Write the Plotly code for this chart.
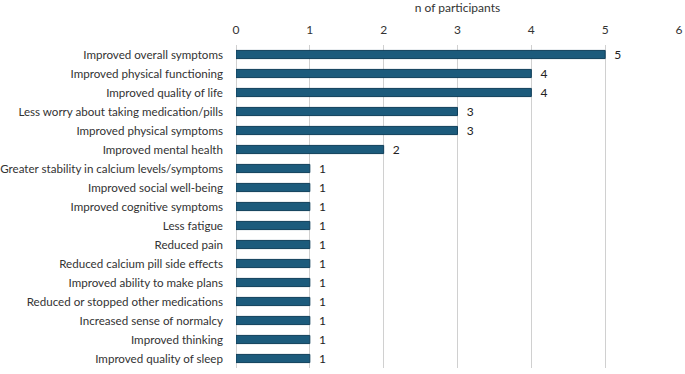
import plotly.graph_objects as go

categories = [
    "Improved overall symptoms",
    "Improved physical functioning",
    "Improved quality of life",
    "Less worry about taking medication/pills",
    "Improved physical symptoms",
    "Improved mental health",
    "Greater stability in calcium levels/symptoms",
    "Improved social well-being",
    "Improved cognitive symptoms",
    "Less fatigue",
    "Reduced pain",
    "Reduced calcium pill side effects",
    "Improved ability to make plans",
    "Reduced or stopped other medications",
    "Increased sense of normalcy",
    "Improved thinking",
    "Improved quality of sleep",
]
values = [5, 4, 4, 3, 3, 2, 1, 1, 1, 1, 1, 1, 1, 1, 1, 1, 1]
x_ticks = [0, 1, 2, 3, 4, 5, 6]

fig = go.Figure(go.Bar(
    y=categories,
    x=values,
    orientation="h",
    marker=dict(color="#1C5B7C", line=dict(color="#0F3E5A", width=1)),
    texttemplate="  %{x}",
    textposition="outside",
    constraintext="none",
    textfont=dict(size=12, color="#222222"),
    cliponaxis=False,
    hoverinfo="skip",
))

fig.update_layout(
    width=685, height=374,
    margin=dict(l=236, r=6, t=45, b=6),
    paper_bgcolor="white",
    plot_bgcolor="white",
    font=dict(family="Lato, Open Sans, sans-serif", size=11.6, color="#333333"),
    bargap=0.57,
    showlegend=False,
    xaxis=dict(
        side="top",
        range=[0, 6],
        tickvals=x_ticks,
        showgrid=True,
        gridcolor="#D0D0D0",
        gridwidth=1,
        zeroline=True,
        zerolinecolor="#D0D0D0",
        zerolinewidth=1,
        showline=False,
        ticks="",
        automargin=False,
        ticklabelstandoff=8,
        tickfont=dict(size=12, color="#333333"),
        title=dict(text="n of participants", font=dict(size=12, color="#333333"), standoff=6),
    ),
    yaxis=dict(
        autorange="reversed",
        showgrid=False,
        showline=False,
        ticks="",
        automargin=False,
        ticklabelstandoff=12,
        tickfont=dict(size=11.6, color="#333333"),
    ),
)

fig.write_html(
    "out.html",
    config={"displayModeBar": False},
    post_script="document.body.style.margin='0';document.body.style.overflow='hidden';",
)
